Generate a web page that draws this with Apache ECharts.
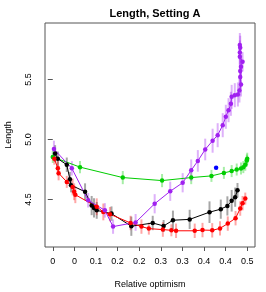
<!DOCTYPE html>
<html><head><meta charset="utf-8">
<script src="https://cdn.jsdelivr.net/npm/echarts@6/dist/echarts.min.js"></script>
<style>html,body{margin:0;padding:0;background:#fff}#c{width:266px;height:292px}</style>
</head><body><div id="c"></div>
<script>
// x tick positions and labels (as printed in the reference)
const xTickValues = [0, 0.0556, 0.1111, 0.1667, 0.2222, 0.2778, 0.3333, 0.3889, 0.4444, 0.5];
const xTickLabels = ["0", "0", "0.1", "0.2", "0.2", "0.3", "0.3", "0.4", "0.4", "0.5"];
const yTickValues = [4.5, 5.0, 5.5];
const yTickLabels = ["4.5", "5.0", "5.5"];

// series: [x, y, halfErrorBar]
const greenData = [
  [0.000, 4.855, 0.05], [0.070, 4.770, 0.05], [0.180, 4.683, 0.055], [0.281, 4.658, 0.055],
  [0.356, 4.683, 0.055], [0.408, 4.697, 0.05], [0.440, 4.722, 0.05], [0.460, 4.737, 0.05],
  [0.473, 4.750, 0.05], [0.484, 4.758, 0.05], [0.490, 4.770, 0.05], [0.495, 4.790, 0.05],
  [0.499, 4.825, 0.05], [0.500, 4.840, 0.05]
];
const blueData = [[0.420, 4.765, 0.0]];
const blackData = [
  [0.006, 4.883, 0.07], [0.013, 4.840, 0.06], [0.036, 4.790, 0.06], [0.044, 4.670, 0.06],
  [0.047, 4.620, 0.06], [0.083, 4.565, 0.07], [0.100, 4.450, 0.08], [0.106, 4.430, 0.08],
  [0.113, 4.410, 0.07], [0.151, 4.383, 0.06], [0.202, 4.278, 0.08], [0.257, 4.305, 0.06],
  [0.285, 4.280, 0.05], [0.309, 4.328, 0.08], [0.352, 4.335, 0.08], [0.403, 4.395, 0.09],
  [0.432, 4.420, 0.08], [0.449, 4.447, 0.08], [0.460, 4.490, 0.09], [0.469, 4.520, 0.08],
  [0.475, 4.578, 0.06]
];
const redData = [
  [0.004, 4.840, 0.05], [0.013, 4.760, 0.06], [0.015, 4.720, 0.06], [0.036, 4.647, 0.05],
  [0.051, 4.605, 0.07], [0.055, 4.565, 0.07], [0.058, 4.540, 0.07], [0.113, 4.440, 0.07],
  [0.130, 4.397, 0.07], [0.147, 4.378, 0.06], [0.200, 4.305, 0.06], [0.228, 4.275, 0.06],
  [0.247, 4.258, 0.05], [0.283, 4.250, 0.06], [0.305, 4.244, 0.05], [0.317, 4.240, 0.06],
  [0.365, 4.240, 0.06], [0.385, 4.246, 0.06], [0.410, 4.244, 0.06], [0.430, 4.260, 0.06],
  [0.450, 4.300, 0.06], [0.470, 4.345, 0.06], [0.482, 4.425, 0.06], [0.488, 4.470, 0.06],
  [0.495, 4.508, 0.05]
];
const purpleData = [
  [0.003, 4.920, 0.07], [0.049, 4.760, 0.06], [0.091, 4.494, 0.06], [0.134, 4.410, 0.06],
  [0.155, 4.275, 0.06], [0.213, 4.310, 0.07], [0.262, 4.465, 0.08], [0.302, 4.569, 0.08],
  [0.334, 4.640, 0.08], [0.356, 4.744, 0.09], [0.373, 4.822, 0.09], [0.392, 4.917, 0.09],
  [0.411, 4.990, 0.10], [0.424, 5.036, 0.10], [0.437, 5.119, 0.10], [0.445, 5.189, 0.10],
  [0.452, 5.244, 0.10], [0.458, 5.297, 0.10], [0.460, 5.355, 0.10], [0.468, 5.369, 0.10],
  [0.476, 5.375, 0.10], [0.480, 5.408, 0.10], [0.484, 5.458, 0.10], [0.482, 5.520, 0.10],
  [0.482, 5.570, 0.10], [0.484, 5.605, 0.10], [0.488, 5.647, 0.08], [0.481, 5.690, 0.10],
  [0.481, 5.725, 0.10], [0.482, 5.764, 0.10], [0.481, 5.787, 0.10]
];

const FONT = "Liberation Sans, Arial, Helvetica, sans-serif";

function errSeries(data, color) {
  return {
    type: 'custom', z: 1, silent: true,
    data: data.map(d => [d[0], d[1] - d[2], d[1] + d[2]]),
    encode: { x: 0, y: [1, 2] },
    renderItem: function (params, api) {
      const lo = api.coord([api.value(0), api.value(1)]);
      const hi = api.coord([api.value(0), api.value(2)]);
      return { type: 'line', shape: { x1: lo[0], y1: lo[1], x2: hi[0], y2: hi[1] },
               style: { stroke: color, lineWidth: 2, opacity: 0.35 } };
    }
  };
}
function lineSeries(data, color, showLine) {
  return {
    type: 'line', z: 3, silent: true,
    data: data.map(d => [d[0], d[1]]),
    symbol: 'circle', symbolSize: 4.5, showSymbol: true,
    itemStyle: { color: color },
    lineStyle: { color: color, width: showLine === false ? 0 : 1 },
    animation: false
  };
}
function labelFor(values, labels) {
  return v => { const i = values.findIndex(t => Math.abs(t - v) < 1e-9); return i >= 0 ? labels[i] : ''; };
}

const chart = echarts.init(document.getElementById('c'), null, { renderer: 'canvas' });
chart.setOption({
  animation: false,
  backgroundColor: '#ffffff',
  title: {
    text: 'Length, Setting A', left: 150, top: 3, textAlign: 'center',
    textStyle: { fontFamily: FONT, fontSize: 11, fontWeight: 'bold', color: '#000' }
  },
  grid: {
    left: 45, right: 11, top: 23, bottom: 45, outerBoundsMode: 'none', containLabel: false,
    show: true, borderColor: '#555', borderWidth: 1, backgroundColor: 'transparent'
  },
  xAxis: {
    type: 'value', min: -0.02, max: 0.52,
    name: 'Relative optimism', nameLocation: 'middle', nameGap: 33,
    nameTextStyle: { fontFamily: FONT, fontSize: 9, color: '#000' },
    axisLine: { show: false },
    splitLine: { show: false },
    axisTick: { show: true, inside: false, length: 4, customValues: xTickValues, lineStyle: { color: '#555' } },
    axisLabel: {
      customValues: xTickValues, margin: 10, fontFamily: FONT, fontSize: 9, color: '#000',
      formatter: labelFor(xTickValues, xTickLabels)
    }
  },
  yAxis: {
    type: 'value', min: 4.105, max: 5.97,
    name: 'Length', nameLocation: 'middle', nameGap: 31.5, nameRotate: 90,
    nameTextStyle: { fontFamily: FONT, fontSize: 9, color: '#000' },
    axisLine: { show: false },
    splitLine: { show: false },
    axisTick: { show: true, inside: false, length: 5, customValues: yTickValues, lineStyle: { color: '#555' } },
    axisLabel: {
      customValues: yTickValues, rotate: 90, margin: 11.5, fontFamily: FONT, fontSize: 9, color: '#000',
      formatter: labelFor(yTickValues, yTickLabels)
    }
  },
  series: [
    errSeries(greenData, '#00cd00'),
    errSeries(blackData, '#000000'),
    errSeries(redData, '#ff0000'),
    errSeries(purpleData, '#a020f0'),
    lineSeries(greenData, '#00cd00'),
    lineSeries(blackData, '#000000'),
    lineSeries(redData, '#ff0000'),
    lineSeries(purpleData, '#a020f0'),
    lineSeries(blueData, '#0000ff', false)
  ]
});
</script></body></html>
